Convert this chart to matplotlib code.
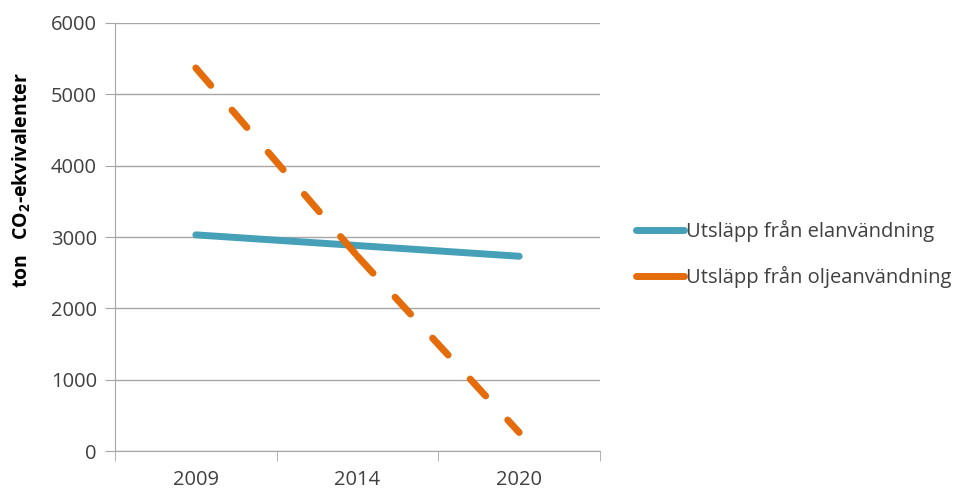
import matplotlib
matplotlib.use("Agg")
import matplotlib.pyplot as plt
from matplotlib.lines import Line2D

plt.rcParams['font.family'] = ['Open Sans', 'DejaVu Sans']
plt.rcParams['mathtext.default'] = 'regular'

# data
years = ["2009", "2014", "2020"]
el = [3030, 2880, 2730]
olja = [5370, 2730, 260]
labels = ["Utsläpp från elanvändning", "Utsläpp från oljeanvändning"]

blue = '#46A0B8'
orange = '#E46C0A'
grey = '#A6A6A6'
txt = '#404040'

fig = plt.figure(figsize=(9.78, 4.90), dpi=100)
ax = fig.add_axes([115/978, 1-451/490, 485/978, 428/490])

x = list(range(len(years)))
ax.plot(x, el, color=blue, lw=5, solid_capstyle='round')
# dash pattern restarts at each point, like the original
for i in range(len(x) - 1):
    ax.plot(x[i:i+2], olja[i:i+2], color=orange, lw=5, dashes=(3.3, 4.7),
            dash_capstyle='round')

ax.set_xlim(-0.5, len(years) - 0.5)
ax.set_ylim(0, 6000)
ax.set_yticks(range(0, 6001, 1000))
ax.yaxis.grid(True, color=grey, lw=1)
ax.set_axisbelow(True)

ax.set_xticks(x)
ax.set_xticklabels(years)
ax.set_xticks([i - 0.5 for i in range(len(years) + 1)], minor=True)
ax.tick_params(axis='x', which='major', length=0, pad=14, labelsize=14.5, labelcolor=txt)
ax.tick_params(axis='x', which='minor', length=7, color=grey, direction='out')
ax.tick_params(axis='y', length=7, color=grey, pad=6, labelsize=14.5, labelcolor=txt)

for s in ['top', 'right']:
    ax.spines[s].set_visible(False)
for s in ['left', 'bottom']:
    ax.spines[s].set_color(grey)

fig.text(22/978, 1-180/490, "ton   CO$_{2}$-ekvivalenter", rotation=90,
         ha='center', va='center', fontsize=14, fontweight='bold', color='black')

handles = [Line2D([], [], color=blue, lw=5, solid_capstyle='round'),
           Line2D([], [], color=orange, lw=5, solid_capstyle='round')]
fig.legend(handles, labels, loc='center left', bbox_to_anchor=(618/978, 1-254/490),
           frameon=False, fontsize=14.5, handlelength=2.4, handletextpad=0.1,
           labelspacing=1.2, labelcolor=txt)

fig.savefig("out.png", dpi=100)
